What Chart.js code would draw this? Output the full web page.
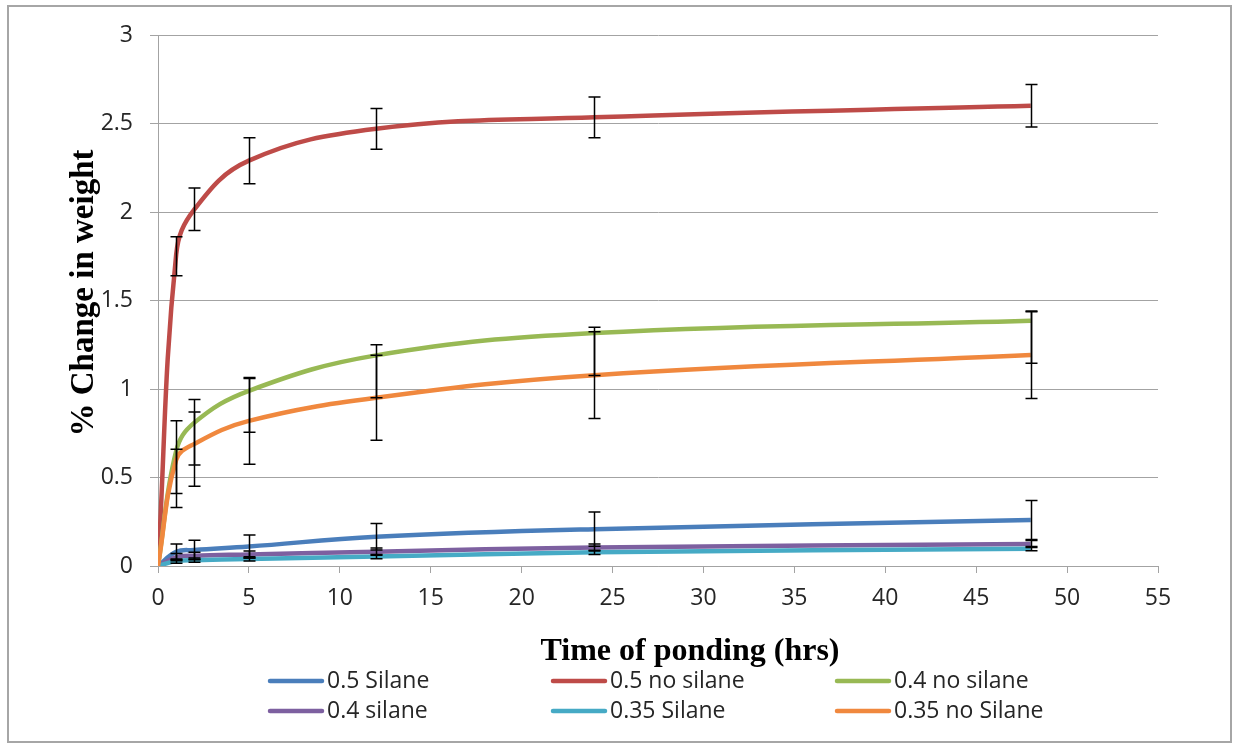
<!DOCTYPE html>
<html>
<head>
<meta charset="utf-8">
<script src="https://cdn.jsdelivr.net/npm/chart.js@4.4.0/dist/chart.umd.min.js"></script>
<style>
  html, body { margin: 0; padding: 0; background: #fff; }
  canvas { display: block; }
</style>
</head>
<body>
<canvas id="pondingChart" width="1235" height="744"></canvas>
<script>
  // hours of ponding at which samples were weighed
  const HOURS = [0, 1, 2, 5, 12, 24, 48];

  const SERIES_NAMES = ["0.5 Silane", "0.5 no silane", "0.4 no silane", "0.4 silane", "0.35 Silane", "0.35 no Silane"];
  const SERIES_COLORS = ["#4A7EBB", "#BE4B48", "#98B954", "#7D60A0", "#46AAC5", "#F0883E"];

  // % change in weight
  const silane05   = [0, 0.08, 0.09, 0.11, 0.165, 0.208, 0.26];
  const noSilane05 = [0, 1.76, 2.015, 2.29, 2.47, 2.535, 2.60];
  const noSilane04 = [0, 0.65, 0.81, 0.99, 1.19, 1.316, 1.386];
  const silane04   = [0, 0.05, 0.058, 0.065, 0.081, 0.105, 0.124];
  const silane035  = [0, 0.028, 0.033, 0.04, 0.053, 0.077, 0.098];
  const noSilane035 = [0, 0.60, 0.69, 0.82, 0.95, 1.078, 1.192];

  // error bars (plus / minus)
  const silane05Plus    = [0, 0.045, 0.055, 0.065, 0.075, 0.097, 0.11];
  const silane05Minus   = [0, 0.045, 0.055, 0.065, 0.075, 0.097, 0.11];
  const noSilane05Plus  = [0, 0.10, 0.12, 0.13, 0.115, 0.115, 0.12];
  const noSilane05Minus = [0, 0.12, 0.12, 0.13, 0.115, 0.115, 0.12];
  const noSilane04Plus  = [0, 0.17, 0.13, 0.07, 0.06, 0.033, 0.055];
  const noSilane04Minus = [0, 0.24, 0.24, 0.235, 0.24, 0.24, 0.24];
  const silane04Plus    = [0, 0.02, 0.02, 0.02, 0.02, 0.02, 0.02];
  const silane04Minus   = [0, 0.02, 0.02, 0.02, 0.02, 0.02, 0.02];
  const silane035Plus   = [0, 0.012, 0.012, 0.012, 0.012, 0.012, 0.012];
  const silane035Minus  = [0, 0.012, 0.012, 0.012, 0.012, 0.012, 0.012];
  const noSilane035Plus  = [0, 0.06, 0.18, 0.245, 0.24, 0.245, 0.245];
  const noSilane035Minus = [0, 0.27, 0.24, 0.245, 0.24, 0.245, 0.245];

  const X_MIN = 0, X_MAX = 55, X_STEP = 5;
  const Y_MIN = 0, Y_MAX = 3, Y_STEP = 0.5;

  const X_TITLE = "Time of ponding (hrs)";
  const Y_TITLE = "% Change in weight";

  const values = [silane05, noSilane05, noSilane04, silane04, silane035, noSilane035];
  const plus = [silane05Plus, noSilane05Plus, noSilane04Plus, silane04Plus, silane035Plus, noSilane035Plus];
  const minus = [silane05Minus, noSilane05Minus, noSilane04Minus, silane04Minus, silane035Minus, noSilane035Minus];

  const GRID = "#a3a3a3";
  const TEXT = "#262626";
  const TICK_FONT = { family: "Open Sans", size: 23 };

  const datasets = values.map((vals, i) => ({
    label: SERIES_NAMES[i],
    data: vals.map((v, j) => ({ x: HOURS[j], y: v })),
    borderColor: SERIES_COLORS[i],
    backgroundColor: SERIES_COLORS[i],
    borderWidth: 4.5,
    pointRadius: 0,
    showLine: true,
    tension: 0.4,
    order: values.length - i, // later series on top, like Excel
  }));

  const frameAndErrors = {
    id: "frameAndErrors",
    beforeDraw(chart) {
      const ctx = chart.ctx;
      ctx.save();
      ctx.fillStyle = "#fff";
      ctx.fillRect(0, 0, chart.width, chart.height);
      ctx.strokeStyle = "#a6a6a6";
      ctx.lineWidth = 2;
      ctx.strokeRect(8, 6, 1223, 736);
      ctx.restore();
    },
    afterDatasetsDraw(chart) {
      const ctx = chart.ctx;
      const xs = chart.scales.x, ys = chart.scales.y;
      ctx.save();
      ctx.strokeStyle = "#000";
      ctx.lineWidth = 1.5;
      values.forEach((vals, i) => {
        vals.forEach((v, j) => {
          if (!plus[i][j] && !minus[i][j]) return;
          const x = Math.round(xs.getPixelForValue(HOURS[j])) + 0.5;
          const top = ys.getPixelForValue(v + plus[i][j]);
          const bot = ys.getPixelForValue(v - minus[i][j]);
          ctx.beginPath();
          ctx.moveTo(x, top); ctx.lineTo(x, bot);
          ctx.moveTo(x - 6, top); ctx.lineTo(x + 6, top);
          ctx.moveTo(x - 6, bot); ctx.lineTo(x + 6, bot);
          ctx.stroke();
        });
      });
      ctx.restore();
    },
    afterDraw(chart) {
      const ctx = chart.ctx;
      ctx.save();
      ctx.fillStyle = "#000";
      ctx.textAlign = "center";
      ctx.textBaseline = "middle";
      ctx.font = 'bold 32px "Liberation Serif"';
      ctx.fillText(X_TITLE, 690, 652);
      ctx.font = 'bold 33px "Liberation Serif"';
      ctx.translate(84, 293);
      ctx.rotate(-Math.PI / 2);
      ctx.fillText(Y_TITLE, 0, 0);
      ctx.restore();

      // legend: 3 columns x 2 rows
      const colX = [270, 553, 837];
      const rowY = [681, 711];
      ctx.save();
      ctx.font = '23px "Open Sans"';
      ctx.textBaseline = "middle";
      ctx.lineCap = "round";
      chart.data.datasets.forEach((ds, i) => {
        const x = colX[i % 3], y = rowY[Math.floor(i / 3)];
        ctx.strokeStyle = ds.borderColor;
        ctx.lineWidth = 4.5;
        ctx.beginPath();
        ctx.moveTo(x, y); ctx.lineTo(x + 52, y);
        ctx.stroke();
        ctx.fillStyle = TEXT;
        ctx.fillText(ds.label, x + 57, y);
      });
      ctx.restore();
    },
  };

  new Chart(document.getElementById("pondingChart"), {
    type: "scatter",
    data: { datasets },
    options: {
      responsive: false,
      animation: false,
      devicePixelRatio: 1,
      layout: { padding: { left: 0, top: 35, right: 77, bottom: 0 } },
      plugins: { legend: { display: false }, tooltip: { enabled: false } },
      scales: {
        x: {
          type: "linear",
          min: X_MIN, max: X_MAX,
          ticks: { stepSize: X_STEP, color: TEXT, font: TICK_FONT, padding: 12, maxRotation: 0 },
          grid: { drawOnChartArea: false, drawTicks: true, tickLength: 7, color: GRID },
          border: { color: GRID },
          afterFit(scale) { scale.height = 178; },
        },
        y: {
          min: Y_MIN, max: Y_MAX,
          ticks: { stepSize: Y_STEP, color: TEXT, font: TICK_FONT, padding: 17, callback: (v) => String(v) },
          grid: { color: GRID, tickLength: 8 },
          border: { color: GRID },
          afterFit(scale) { scale.width = 158; },
        },
      },
    },
    plugins: [frameAndErrors],
  });
</script>
</body>
</html>
